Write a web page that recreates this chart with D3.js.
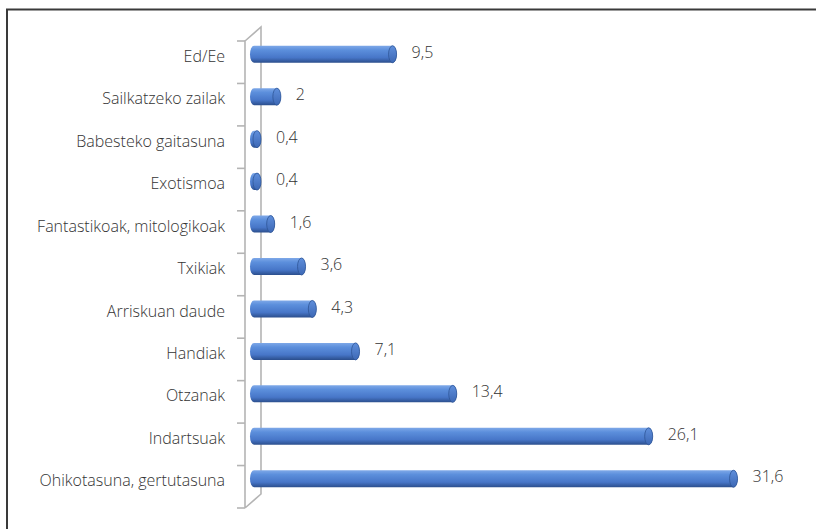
<!DOCTYPE html>
<html>
<head>
<meta charset="utf-8">
<script src="https://cdn.jsdelivr.net/npm/d3@7"></script>
<style>
  html, body { margin: 0; padding: 0; background: #fff; }
  svg { display: block; }
</style>
</head>
<body>
<script>
const width = 816;
const height = 529;

const categories = ['Ed/Ee', 'Sailkatzeko zailak', 'Babesteko gaitasuna', 'Exotismoa',
    'Fantastikoak, mitologikoak', 'Txikiak', 'Arriskuan daude', 'Handiak',
    'Otzanak', 'Indartsuak', 'Ohikotasuna, gertutasuna'];
const values = [9.5, 2, 0.4, 0.4, 1.6, 3.6, 4.3, 7.1, 13.4, 26.1, 31.6];
const valueLabels = ['9,5', '2', '0,4', '0,4', '1,6', '3,6', '4,3', '7,1', '13,4', '26,1', '31,6'];

const svg = d3.select('body')
    .append('svg')
    .attr('width', width)
    .attr('height', height);

// frame (cut by the window on the right and bottom)
svg.append('rect')
    .attr('x', 7)
    .attr('y', 9.5)
    .attr('width', 812)
    .attr('height', 540)
    .attr('fill', 'none')
    .attr('stroke', '#3a3a3a')
    .attr('stroke-width', 2);

const defs = svg.append('defs');
const grad = defs.append('linearGradient')
    .attr('id', 'barGrad')
    .attr('x1', 0).attr('y1', 0).attr('x2', 0).attr('y2', 1);
grad.append('stop').attr('offset', '0%').attr('stop-color', '#7ea8e8');
grad.append('stop').attr('offset', '25%').attr('stop-color', '#5c8fdc');
grad.append('stop').attr('offset', '70%').attr('stop-color', '#4776c8');
grad.append('stop').attr('offset', '100%').attr('stop-color', '#2b4e8c');

const capGrad = defs.append('linearGradient')
    .attr('id', 'capGrad')
    .attr('x1', 0).attr('y1', 0).attr('x2', 0).attr('y2', 1);
capGrad.append('stop').attr('offset', '0%').attr('stop-color', '#5f8fdc');
capGrad.append('stop').attr('offset', '100%').attr('stop-color', '#3d68b5');

// scales
const y = d3.scaleBand().domain(categories).range([41, 508]);
const x = d3.scaleLinear().domain([0, 35]).range([250, 790]);

// 3D wall
const front = 245, back = 261, depth = 14;
const wall = svg.append('g')
    .attr('fill', 'none')
    .attr('stroke', '#b4b4b4')
    .attr('stroke-width', 1.6);
wall.append('path')
    .attr('d', `M${front},${y.range()[1]} L${front},${y.range()[0]} L${back},${y.range()[0] - depth} L${back},${y.range()[1] - depth} L${front},${y.range()[1]}`);
const tickYs = categories.map(c => y(c)).concat([y.range()[1]]);
wall.selectAll('line.tick')
    .data(tickYs)
    .enter()
    .append('line')
    .attr('class', 'tick')
    .attr('x1', front - 8)
    .attr('x2', front)
    .attr('y1', d => d)
    .attr('y2', d => d);

// bars
const barH = 17;
const centerY = c => y(c) + y.bandwidth() / 2 - 8;
const capRx = 4;
const minW = 11;
const barEnd = v => Math.max(x(v), x(0) + minW);

const bars = svg.append('g');
categories.forEach((c, i) => {
    const x0 = x(0);
    const x1 = barEnd(values[i]);
    const cy = centerY(c);
    bars.append('rect')
        .attr('x', x0)
        .attr('y', cy - barH / 2)
        .attr('width', x1 - x0)
        .attr('height', barH)
        .attr('rx', capRx)
        .attr('ry', barH / 2)
        .attr('fill', 'url(#barGrad)');
    bars.append('ellipse')
        .attr('cx', x1 - capRx)
        .attr('cy', cy)
        .attr('rx', capRx)
        .attr('ry', barH / 2)
        .attr('fill', 'url(#capGrad)')
        .attr('stroke', '#2f5597')
        .attr('stroke-width', 0.8);
});

const font = '"Open Sans", Lato, sans-serif';

// value labels
svg.append('g')
    .selectAll('text')
    .data(categories)
    .enter()
    .append('text')
    .attr('x', (d, i) => barEnd(values[i]) + 15)
    .attr('y', d => centerY(d) - 2)
    .attr('dy', '0.35em')
    .style('font-family', font)
    .style('font-size', '16px')
    .style('font-weight', 300)
    .style('fill', '#333')
    .text((d, i) => valueLabels[i]);

// category labels
svg.append('g')
    .selectAll('text')
    .data(categories)
    .enter()
    .append('text')
    .attr('x', 225)
    .attr('y', d => centerY(d) + 2)
    .attr('dy', '0.35em')
    .attr('text-anchor', 'end')
    .style('font-family', font)
    .style('font-size', '16px')
    .style('font-weight', 300)
    .style('fill', '#333')
    .text(d => d);
</script>
</body>
</html>
